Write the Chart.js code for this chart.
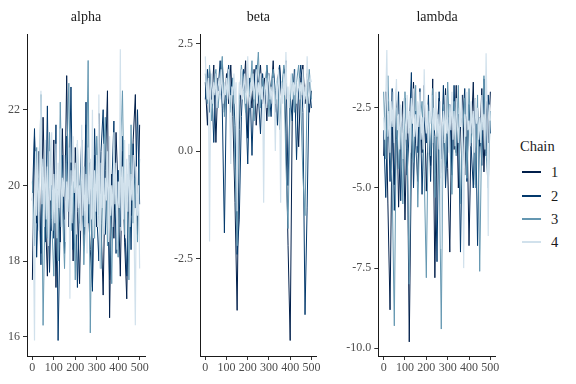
<!DOCTYPE html>
<html>
<head>
<meta charset="utf-8">
<script src="https://cdn.jsdelivr.net/npm/chart.js"></script>
<style>
  body { margin: 0; background: #fff; }
  #wrap { position: relative; width: 576px; height: 384px; font-family: "Liberation Serif", serif; }
  canvas { position: absolute; top: 0; }
  .leg { position: absolute; color: #1a1a1a; font-size: 14.5px; line-height: 16px; }
  .key { position: absolute; left: 522px; width: 19px; height: 1.5px; }
  .ttl { position: absolute; top: 17px; color: #1a1a1a; font-size: 14px; line-height: 16px;
         transform: translate(-50%, -50%); white-space: nowrap; }
</style>
</head>
<body>
<div id="wrap">
  <canvas id="alphaChart" width="150" height="384" style="left:0px"></canvas>
  <canvas id="betaChart" width="162" height="384" style="left:160px"></canvas>
  <canvas id="lambdaChart" width="171" height="384" style="left:330px"></canvas>
  <div id="titles"></div>
  <div id="legend"></div>
</div>
<script>
// iterations (thinned: every 10th draw for chains 1-3, every 5th for chain 4)
const iterations = [0,10,20,30,40,50,60,70,80,90,100,110,120,130,140,150,160,170,180,190,200,
  210,220,230,240,250,260,270,280,290,300,310,320,330,340,350,360,370,380,390,400,
  410,420,430,440,450,460,470,480,490,500];
const iterations4 = [0,5,10,15,20,25,30,35,40,45,50,55,60,65,70,75,80,85,90,95,
  100,105,110,115,120,125,130,135,140,145,150,155,160,165,170,175,180,185,190,195,
  200,205,210,215,220,225,230,235,240,245,250,255,260,265,270,275,280,285,290,295,
  300,305,310,315,320,325,330,335,340,345,350,355,360,365,370,375,380,385,390,395,
  400,405,410,415,420,425,430,435,440,445,450,455,460,465,470,475,480,485,490,495,500];
const xTicks = [0, 100, 200, 300, 400, 500];
const chainNames = ['1', '2', '3', '4'];
const chainColors = ['#011f4b', '#03396c', '#6497b1', '#d1e1ec'];
const chainIters = [iterations, iterations, iterations, iterations4];

// alpha
const alpha1 = [17.5,21.3,19.0,20.9,18.2,21.8,19.4,17.6,20.5,18.8,21.2,17.3,19.9,18.5,21.5,19.1,22.9,18.9,20.6,18.0,21.0,
  19.3,17.4,20.2,18.7,21.6,19.5,18.3,17.3,20.8,18.9,21.9,19.0,17.1,20.4,22.5,16.5,20.3,18.6,21.4,19.8,
  17.6,20.9,18.5,17.0,20.6,19.2,21.2,22.4,18.7,21.6];
const alpha2 = [19.6,21.5,18.1,20.2,17.9,20.7,18.5,22.1,17.7,20.0,18.6,21.6,15.9,19.2,20.8,18.2,21.3,19.4,22.6,18.3,20.5,
  17.3,19.7,21.2,18.4,22.2,19.0,20.6,17.2,21.5,19.3,18.0,20.9,22.0,18.7,20.2,17.5,19.9,21.7,18.2,20.4,
  18.9,21.3,19.0,17.6,20.8,18.3,21.1,19.4,22.0,19.5];
const alpha3 = [20.1,18.4,21.0,19.3,22.4,16.3,19.8,18.6,21.4,19.1,17.6,20.3,18.0,22.2,19.4,17.8,20.6,22.7,18.8,20.1,17.5,
  21.1,19.0,20.7,17.9,19.6,23.3,16.1,20.2,18.6,21.3,19.2,17.8,20.5,21.8,18.4,20.0,17.4,21.0,19.3,18.1,
  20.8,22.5,18.7,20.3,17.5,21.6,19.0,20.2,18.5,20.7];
const alpha4 = [19.8,18.6,15.9,20.9,19.2,21.0,18.8,20.4,22.5,19.5,
  20.7,18.9,21.2,19.1,20.5,18.4,20.9,19.6,21.4,18.8,
  20.3,19.0,21.1,18.6,20.6,19.4,21.5,18.9,20.2,19.7,
  20.8,18.5,20.1,19.3,21.0,17.0,20.4,19.0,21.3,19.8,
  20.6,18.7,21.2,19.4,20.0,18.8,21.6,19.2,20.5,18.9,
  20.3,18.2,21.0,19.5,20.7,19.1,22.0,18.6,20.4,19.3,
  20.8,18.9,22.4,17.8,20.6,19.4,21.1,18.7,20.2,19.6,
  20.9,18.5,21.3,19.2,20.0,18.9,21.4,19.5,20.6,18.3,
  20.1,19.4,23.6,18.8,20.5,19.1,21.2,18.6,20.7,19.3,
  21.1,18.9,20.3,19.6,20.8,18.4,16.3,20.5,19.2,20.0,
  17.8];
const alphaTicks = [16, 18, 20, 22];

// beta
const beta1 = [1.6,0.6,1.9,1.2,2.0,0.2,1.7,1.3,2.1,0.9,1.8,1.1,2.0,0.8,-1.2,-3.7,0.5,1.9,1.4,2.1,0.3,
  1.6,1.0,1.9,0.6,1.5,2.0,1.1,1.7,0.7,1.8,1.3,2.1,0.9,1.6,2.0,1.2,1.9,0.4,-2.2,-4.4,
  1.0,1.8,1.3,0.1,1.7,2.0,1.1,1.8,0.9,1.4];
const beta2 = [1.2,1.9,0.9,1.6,0.2,1.8,1.4,2.1,1.0,-1.9,1.5,2.0,1.3,1.7,0.6,-2.4,-1.6,0.8,1.9,1.2,-0.3,
  1.7,-0.1,1.6,2.0,1.3,0.4,1.8,1.1,2.0,1.5,0.8,1.9,1.4,0.6,2.0,1.2,1.7,2.1,-0.8,1.3,
  0.7,1.9,-0.2,1.5,2.0,0.9,-3.8,-1.3,1.6,1.0];
const beta3 = [1.8,1.1,2.0,0.7,1.5,1.9,1.0,1.6,2.2,0.8,1.4,1.9,0.9,1.7,-0.4,-2.2,1.2,2.0,1.5,0.9,1.8,
  1.3,2.1,0.7,1.6,2.3,1.0,1.7,1.3,2.0,0.8,1.5,1.9,1.1,1.7,0.5,1.4,2.0,-0.3,-1.8,1.2,
  1.8,0.9,1.6,2.0,1.1,-0.6,-1.5,1.3,1.9,1.2];
const beta4 = [2.2,1.5,1.2,1.7,-2.1,1.4,1.8,1.1,1.6,1.3,
  1.8,1.0,1.5,1.7,1.2,1.9,1.4,1.1,1.6,1.3,
  1.7,1.2,1.9,1.0,-0.3,1.5,1.3,1.8,1.1,1.6,
  -1.4,0.9,1.6,1.3,1.9,1.2,1.5,1.8,1.1,1.4,
  2.2,1.3,1.0,1.6,1.4,1.8,1.2,1.5,1.9,1.1,
  1.6,1.3,1.8,1.2,1.5,-1.2,1.4,1.7,1.0,1.6,
  1.8,1.2,1.5,1.1,1.7,1.3,0.0,1.6,1.2,1.9,
  1.4,-1.2,1.6,1.1,1.8,1.3,2.3,1.2,1.5,1.0,
  1.5,1.8,1.2,1.6,1.3,1.9,1.1,1.4,1.7,1.2,
  1.6,1.3,1.9,1.0,1.5,1.2,2.2,1.4,1.1,1.7,
  1.6];
const betaTicks = [-2.5, 0, 2.5];

// lambda
const lambda1 = [-4.0,-2.0,-5.5,-8.8,-3.0,-4.9,-1.9,-5.6,-3.3,-2.3,-6.0,-2.8,-9.8,-4.1,-1.7,-3.6,-4.8,-2.4,-3.9,-1.8,-5.1,
  -2.9,-4.3,-1.6,-7.8,-3.2,-2.2,-4.7,-3.5,-1.9,-4.4,-7.0,-2.6,-3.8,-1.8,-5.0,-3.1,-2.1,-4.6,-2.7,-6.8,
  -3.4,-1.7,-4.9,-2.5,-3.7,-1.9,-4.5,-2.3,-3.6,-2.0];
const lambda2 = [-3.2,-5.3,-2.3,-4.8,-1.9,-5.7,-3.5,-2.0,-5.4,-3.0,-2.2,-4.6,-3.2,-1.4,-5.0,-2.6,-3.9,-1.9,-5.2,-2.8,-3.6,
  -2.1,-4.8,-2.5,-3.4,-7.3,-2.0,-4.1,-1.8,-5.0,-3.3,-2.4,-4.6,-1.8,-3.9,-2.7,-7.0,-3.0,-1.9,-4.8,-2.4,
  -3.7,-5.0,-2.2,-6.8,-2.8,-4.3,-1.6,-4.0,-2.1,-3.3];
const lambda3 = [-2.0,-4.1,-1.5,-3.6,-4.9,-9.3,-2.5,-4.4,-3.1,-5.5,-2.0,-3.8,-8.0,-2.7,-4.2,-1.8,-5.6,-3.0,-2.3,-4.5,-7.8,
  -2.6,-4.0,-1.9,-5.3,-2.9,-3.8,-9.4,-2.4,-4.3,-1.7,-3.5,-5.2,-2.3,-4.0,-1.8,-5.5,-3.2,-2.2,-4.7,-1.9,
  -3.6,-2.7,-5.0,-2.1,-7.6,-3.0,-1.5,-3.9,-5.0,-2.6];
const lambda4 = [-2.8,-3.5,-2.2,-0.7,-3.4,-2.6,-3.9,-2.3,-3.1,-2.0,
  -3.6,-2.5,-1.6,-3.2,-2.7,-3.8,-2.4,-3.0,-4.1,-2.2,
  -2.9,-3.5,-2.1,-3.3,-2.6,-3.9,-2.2,-3.0,-1.9,-3.4,
  -2.7,-3.7,-2.3,-3.1,-2.0,-3.5,-2.8,-3.8,-1.3,-2.9,
  -3.3,-2.4,-3.9,-2.6,-3.0,-2.1,-3.6,-2.5,-3.2,-2.0,
  -3.4,-2.7,-3.8,-2.3,-6.9,-3.1,-2.6,-3.6,-2.1,-3.3,
  -2.8,-3.9,-2.4,-3.2,-2.0,-3.5,-2.6,-3.7,-2.2,-3.0,
  -3.6,-2.5,-3.1,-2.1,-3.8,-7.5,-2.7,-3.4,-2.0,-3.2,
  -2.9,-3.7,-2.3,-3.3,-2.6,-3.9,-2.2,-3.0,-2.5,-3.5,
  -2.8,-3.6,-2.1,-3.2,-2.7,-3.8,-0.8,-2.9,-6.5,-2.4,
  -2.9];
const lambdaTicks = [-10, -7.5, -5, -2.5];

const tickFont = { family: 'Liberation Serif', size: 12 };

function makePanel(id, left, title, series, yMin, yMax, yTicks, decimals, yWidth, padRight) {
  const datasets = series.map((vals, i) => ({
    label: chainNames[i],
    data: vals.map((v, j) => ({ x: chainIters[i][j], y: v })),
    borderColor: chainColors[i],
    borderWidth: i === 3 ? 1.2 : 1,
    pointRadius: 0,
    tension: 0,
    order: 4 - i,
  }));
  const chart = new Chart(document.getElementById(id), {
    type: 'line',
    data: { datasets: datasets },
    options: {
      responsive: false,
      animation: false,
      layout: { padding: { left: 0, right: padRight, top: 34, bottom: 0 } },
      plugins: {
        legend: { display: false },
        tooltip: { enabled: false },
      },
      scales: {
        x: {
          type: 'linear',
          min: -25,
          max: 525,
          afterBuildTicks: (s) => { s.ticks = xTicks.map(v => ({ value: v })); },
          afterFit: (s) => { s.height = 28; },
          ticks: { color: '#4d4d4d', font: tickFont, maxRotation: 0, autoSkip: false, padding: 1 },
          grid: { drawOnChartArea: false, tickLength: 4, tickColor: '#333' },
          border: { color: '#1a1a1a', width: 1 },
        },
        y: {
          min: yMin,
          max: yMax,
          afterBuildTicks: (s) => { s.ticks = yTicks.map(v => ({ value: v })); },
          afterFit: (s) => { s.width = yWidth; },
          ticks: {
            color: '#4d4d4d', font: tickFont, padding: 3,
            callback: (v) => Number(v).toFixed(decimals),
          },
          grid: { drawOnChartArea: false, tickLength: 4, tickColor: '#333' },
          border: { color: '#1a1a1a', width: 1 },
        },
      },
    },
  });
  const ca = chart.chartArea;
  const t = document.createElement('div');
  t.className = 'ttl';
  t.style.left = (left + (ca.left + ca.right) / 2) + 'px';
  t.textContent = title;
  document.getElementById('titles').appendChild(t);
  return chart;
}

makePanel('alphaChart', 0, 'alpha', [alpha1, alpha2, alpha3, alpha4], 15.49, 24.0, alphaTicks, 0, 27, 5);
makePanel('betaChart', 160, 'beta', [beta1, beta2, beta3, beta4], -4.76, 2.72, betaTicks, 1, 40, 5.3);
makePanel('lambdaChart', 330, 'lambda', [lambda1, lambda2, lambda3, lambda4], -10.24, -0.2, lambdaTicks, 1, 48.3, 5.3);

// legend
const legend = document.getElementById('legend');
const keyY = [172, 196, 219, 242];
let html = '<div class="leg" style="left:520px;top:138px;">Chain</div>';
chainNames.forEach((name, i) => {
  html += '<div class="key" style="top:' + (keyY[i] - 0.75) + 'px;background:' + chainColors[i] + '"></div>';
  html += '<div class="leg" style="left:551px;top:' + (keyY[i] - 8) + 'px;">' + name + '</div>';
});
legend.innerHTML = html;
</script>
</body>
</html>
